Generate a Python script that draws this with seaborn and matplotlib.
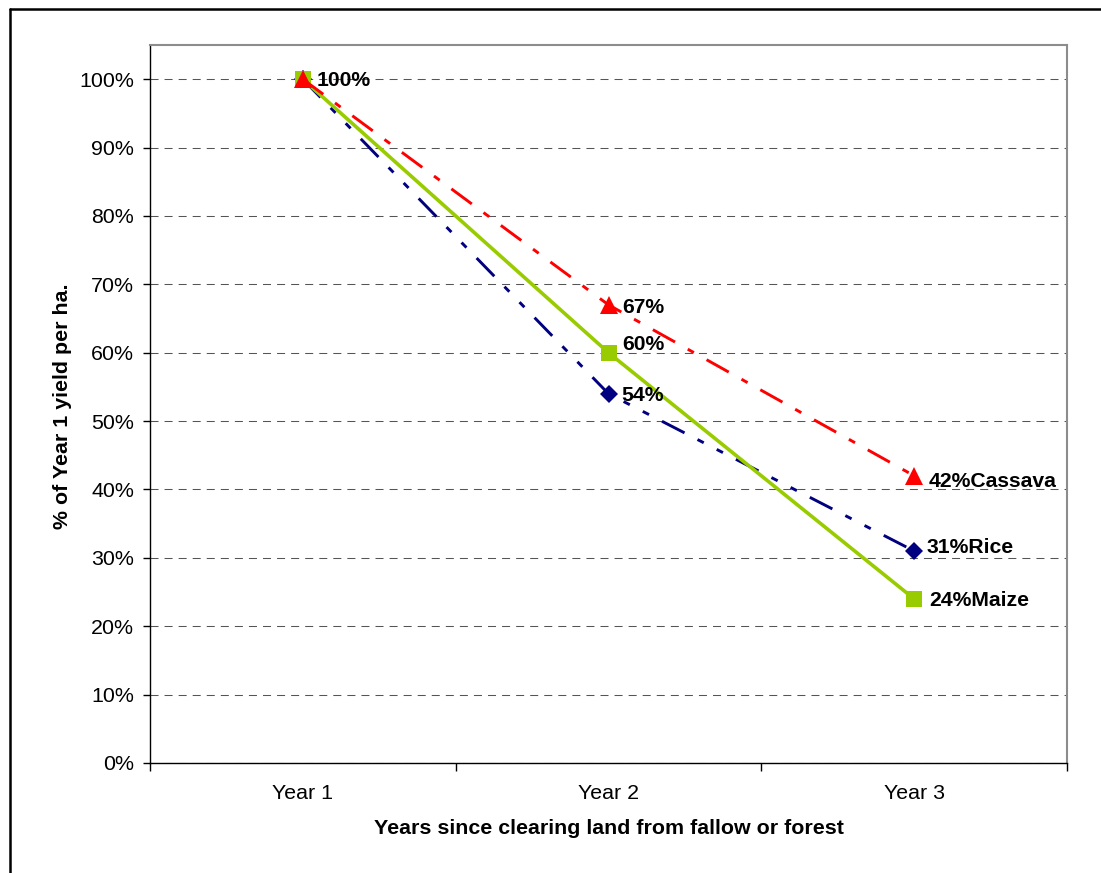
import numpy as np
import pandas as pd
import matplotlib
matplotlib.use("Agg")
import matplotlib.pyplot as plt
from matplotlib.lines import Line2D
from matplotlib.ticker import PercentFormatter, FixedLocator
import seaborn as sns

# Yield relative to the first year after clearing
years = ["Year 1", "Year 2", "Year 3"]
rice = [1.00, 0.54, 0.31]
maize = [1.00, 0.60, 0.24]
cassava = [1.00, 0.67, 0.42]
crops = ["Rice", "Maize", "Cassava"]

sns.set_theme(style="white")
plt.rcParams["font.family"] = ["Liberation Sans", "DejaVu Sans"]
plt.rcParams["text.color"] = "black"
plt.rcParams["axes.labelcolor"] = "black"

W, H, DPI = 1101, 873, 100
fig = plt.figure(figsize=(W / DPI, H / DPI), dpi=DPI)
fig.patch.set_facecolor("white")

# plot area in pixel coordinates
L, R, T, B = 150, 1067, 45, 763
ax = fig.add_axes([L / W, 1 - B / H, (R - L) / W, (B - T) / H])
ax.set_facecolor("white")

xpos = np.arange(len(years))
df = pd.DataFrame({
    "pos": np.tile(xpos, 3),
    "value": rice + maize + cassava,
    "crop": np.repeat(crops, len(years)),
})

styles = {
    "Rice": dict(color="#000080", marker="D", markersize=9.3, lw=2.1,
                 dash=(8.7, 5, 2.4, 5, 2.4, 5)),
    "Maize": dict(color="#99CC00", marker="s", markersize=11, lw=2.6,
                  dash=None),
    "Cassava": dict(color="#FF0000", marker="^", markersize=12.5, lw=2.1,
                    dash=(8.7, 5, 2.4, 5)),
}

for crop in crops:
    st = styles[crop]
    sub = df[df["crop"] == crop]
    sns.lineplot(data=sub, x="pos", y="value", ax=ax, color=st["color"],
                 marker=st["marker"], markersize=st["markersize"],
                 markeredgewidth=0, linewidth=st["lw"], sort=False,
                 legend=False, zorder=3)
    line = ax.lines[-1]
    if st["dash"] is not None:
        line.set_dashes(st["dash"])
        line.set_dash_capstyle("butt")

# value labels (pixel offsets from each point)
label_specs = [
    (maize, "Maize", [(14, -1), (14, 8), (15, -2)]),
    (rice, "Rice", [None, (13, -2), (12, 4)]),
    (cassava, "Cassava", [None, (14, -3), (14, -6)]),
]
for vals, name, offs in label_specs:
    for i, (v, off) in enumerate(zip(vals, offs)):
        if off is None:
            continue
        txt = f"{v:.0%}"
        if i == len(vals) - 1:
            txt += name
        ax.annotate(txt, xy=(xpos[i], v), xytext=off,
                    textcoords="offset pixels", ha="left", va="center",
                    fontsize=15.2, fontweight="bold", color="black",
                    zorder=5)

ax.set_xlim(-0.5, len(years) - 0.5)
ax.set_ylim(0, 1.05)

ax.yaxis.set_major_locator(FixedLocator(np.arange(0, 1.01, 0.1)))
ax.yaxis.set_major_formatter(PercentFormatter(xmax=1, decimals=0))
ax.set_xticks(xpos)
ax.set_xticklabels(years)
ax.xaxis.set_minor_locator(FixedLocator(np.arange(-0.5, len(years), 1.0)))

ax.tick_params(axis="x", which="major", length=0, pad=15, labelsize=15.4,
               colors="black")
ax.tick_params(axis="x", which="minor", length=5.5, width=1, color="black",
               direction="out", bottom=True)
ax.tick_params(axis="y", which="major", length=5, width=1, color="black",
               direction="out", left=True, pad=6.5, labelsize=15.4,
               labelcolor="black")

ax.yaxis.grid(True, color="#555555", linewidth=0.75,
              linestyle=(0, (7.7, 5.8)), zorder=0)
ax.xaxis.grid(False)
ax.set_axisbelow(True)

for side in ["left", "bottom"]:
    ax.spines[side].set_color("black")
    ax.spines[side].set_linewidth(1.0)
for side in ["top", "right"]:
    ax.spines[side].set_color("#8c8c8c")
    ax.spines[side].set_linewidth(1.5)

ax.set_xlabel("")
ax.set_ylabel("")
fig.text(609 / W, 1 - 829 / H,
         "Years since clearing land from fallow or forest",
         ha="center", va="center", fontsize=15.4, fontweight="bold",
         color="black")
fig.text(63 / W, 1 - 406 / H, "% of Year 1 yield per ha.",
         ha="center", va="center", rotation=90, fontsize=15.4,
         fontweight="bold", color="black")

# outer chart frame (top and left edges)
fig.add_artist(Line2D([10 / W, 1.0], [1 - 9 / H, 1 - 9 / H],
                      transform=fig.transFigure, color="black", lw=1.8))
fig.add_artist(Line2D([10 / W, 10 / W], [0.0, 1 - 9 / H],
                      transform=fig.transFigure, color="black", lw=1.8))

fig.savefig("out.png", dpi=DPI, facecolor="white")
